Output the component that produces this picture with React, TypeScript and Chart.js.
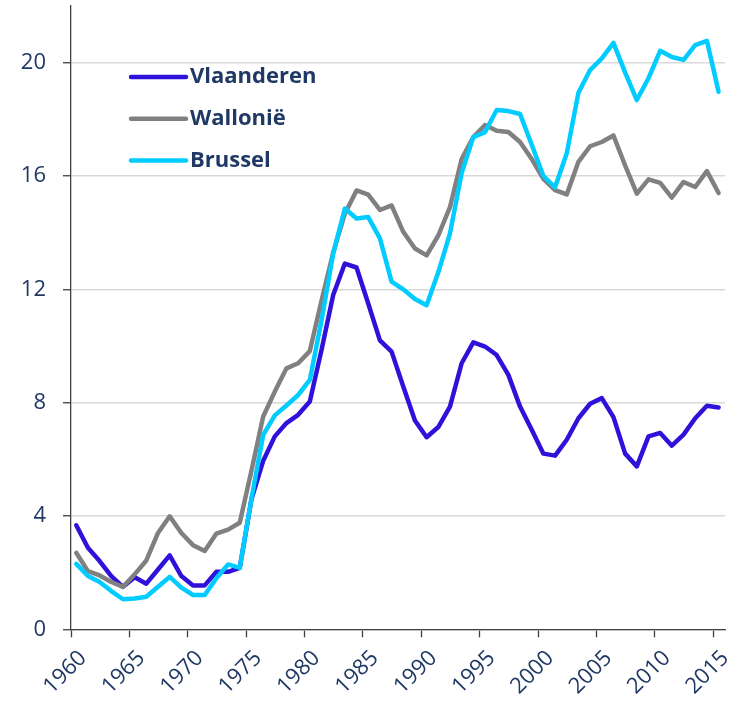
import React, { useEffect, useRef } from 'react';
import { Chart, registerables } from 'chart.js';

Chart.register(...registerables);

// ---- DATA ----
const years = [
  1960, 1961, 1962, 1963, 1964, 1965, 1966, 1967, 1968, 1969,
  1970, 1971, 1972, 1973, 1974, 1975, 1976, 1977, 1978, 1979,
  1980, 1981, 1982, 1983, 1984, 1985, 1986, 1987, 1988, 1989,
  1990, 1991, 1992, 1993, 1994, 1995, 1996, 1997, 1998, 1999,
  2000, 2001, 2002, 2003, 2004, 2005, 2006, 2007, 2008, 2009,
  2010, 2011, 2012, 2013, 2014, 2015,
];

const vlaanderen = [
  3.67, 2.88, 2.41, 1.88, 1.5, 1.84, 1.61, 2.11, 2.61, 1.88,
  1.55, 1.55, 2.03, 2.03, 2.17, 4.59, 5.94, 6.81, 7.28, 7.57,
  8.04, 9.86, 11.8, 12.91, 12.77, 11.5, 10.2, 9.8, 8.57, 7.37,
  6.78, 7.14, 7.86, 9.39, 10.13, 9.98, 9.68, 8.98, 7.86, 7.04,
  6.2, 6.13, 6.69, 7.45, 7.96, 8.16, 7.49, 6.2, 5.75, 6.81,
  6.93, 6.48, 6.87, 7.45, 7.89, 7.83,
];

const wallonie = [
  2.7, 2.05, 1.9, 1.67, 1.5, 1.94, 2.43, 3.4, 3.99, 3.4,
  2.97, 2.76, 3.38, 3.52, 3.76, 5.6, 7.5, 8.39, 9.21, 9.39,
  9.82, 11.6, 13.3, 14.67, 15.49, 15.34, 14.8, 14.96, 14.03, 13.44,
  13.2, 13.9, 14.9, 16.6, 17.37, 17.8, 17.6, 17.55, 17.2, 16.6,
  15.9, 15.5, 15.35, 16.5, 17.05, 17.2, 17.43, 16.37, 15.38, 15.88,
  15.76, 15.24, 15.79, 15.61, 16.17, 15.4,
];

const brussel = [
  2.31, 1.88, 1.67, 1.35, 1.06, 1.09, 1.15, 1.5, 1.85, 1.47,
  1.21, 1.21, 1.8, 2.29, 2.17, 4.6, 6.85, 7.55, 7.9, 8.27,
  8.8, 10.9, 13.26, 14.85, 14.5, 14.55, 13.8, 12.27, 12.0, 11.66,
  11.44, 12.6, 13.97, 16.1, 17.37, 17.55, 18.33, 18.29, 18.19, 17.1,
  16.0, 15.6, 16.8, 18.94, 19.74, 20.15, 20.7, 19.65, 18.68, 19.45,
  20.42, 20.2, 20.1, 20.62, 20.77, 18.97,
];

const seriesNames = ['Vlaanderen', 'Wallonië', 'Brussel'];
const tickYears = [1960, 1965, 1970, 1975, 1980, 1985, 1990, 1995, 2000, 2005, 2010, 2015];

// ---- STYLE ----
const COLORS = ['#2F12D9', '#808080', '#00CCFF'];
const TEXT = '#1F3864';
const FONT = "'Open Sans', 'Liberation Sans', sans-serif";
const X_SHIFT = 0.45; // yearly values sit mid-year, right of the year tick marks

const insideLegend = {
  id: 'insideLegend',
  afterDraw(chart: any) {
    const ctx = chart.ctx;
    const x0 = 131;
    const x1 = 186;
    const y0 = 77;
    const gap = 41.7;
    ctx.save();
    chart.data.datasets.forEach((ds: any, i: number) => {
      const y = y0 + i * gap;
      ctx.strokeStyle = ds.borderColor;
      ctx.lineWidth = 4.5;
      ctx.lineCap = 'round';
      ctx.beginPath();
      ctx.moveTo(x0, y);
      ctx.lineTo(x1, y);
      ctx.stroke();
      ctx.fillStyle = TEXT;
      ctx.font = `bold 22px ${FONT}`;
      ctx.textAlign = 'left';
      ctx.textBaseline = 'middle';
      ctx.fillText(ds.label, x1 + 4, y);
    });
    ctx.restore();
  },
};

export default function App() {
  const ref = useRef<HTMLCanvasElement | null>(null);

  useEffect(() => {
    document.body.style.margin = '0';
    document.body.style.overflow = 'hidden';
    const canvas = ref.current;
    if (!canvas) return;
    const allSeries = [vlaanderen, wallonie, brussel];
    const chart = new Chart(canvas, {
      type: 'line',
      data: {
        datasets: allSeries.map((vals, s) => ({
          label: seriesNames[s],
          data: years.map((yr, i) => ({ x: yr, y: vals[i] })),
          borderColor: COLORS[s],
          backgroundColor: COLORS[s],
          borderWidth: 4.5,
          pointRadius: 0,
          tension: 0,
          fill: false,
          borderJoinStyle: 'round' as const,
          borderCapStyle: 'round' as const,
          order: 2 - s,
        })),
      },
      options: {
        animation: false,
        responsive: false,
        maintainAspectRatio: false,
        layout: { padding: { left: 0, top: 6, right: 7, bottom: 0 } },
        plugins: {
          legend: { display: false },
          tooltip: { enabled: false },
        },
        scales: {
          x: {
            type: 'linear',
            min: years[0] - X_SHIFT,
            max: years[years.length - 1] + 1 - X_SHIFT,
            afterBuildTicks: (scale: any) => {
              scale.ticks = tickYears.map((v) => ({ value: v - X_SHIFT }));
            },
            afterFit: (scale: any) => {
              scale.height = 72.7;
              scale.paddingLeft = 0;
              scale.paddingRight = 0;
            },
            grid: {
              drawOnChartArea: false,
              drawTicks: true,
              tickLength: 8,
              tickColor: '#404040',
              tickWidth: 1.3,
            },
            border: { color: '#404040', width: 1.3 },
            ticks: {
              autoSkip: false,
              minRotation: 45,
              maxRotation: 45,
              padding: 8,
              labelOffset: 12,
              color: TEXT,
              font: { family: FONT, size: 22 },
              callback: (_v: any, i: number) => String(tickYears[i]),
            },
          },
          y: {
            min: 0,
            max: 22,
            afterFit: (scale: any) => {
              scale.width = 71;
              scale.paddingTop = 0;
              scale.paddingBottom = 0;
            },
            grid: {
              color: '#D9D9D9',
              lineWidth: 1.5,
              tickLength: 8,
              tickColor: '#404040',
              tickWidth: 1.3,
            },
            border: { color: '#404040', width: 1.3 },
            ticks: {
              stepSize: 4,
              includeBounds: false,
              padding: 17,
              color: TEXT,
              font: { family: FONT, size: 22 },
            },
          },
        },
      },
      plugins: [insideLegend],
    } as any);
    return () => chart.destroy();
  }, []);

  return (
    <div style={{ width: 732, height: 702 }}>
      <canvas ref={ref} width={732} height={702} style={{ display: 'block' }} />
    </div>
  );
}
